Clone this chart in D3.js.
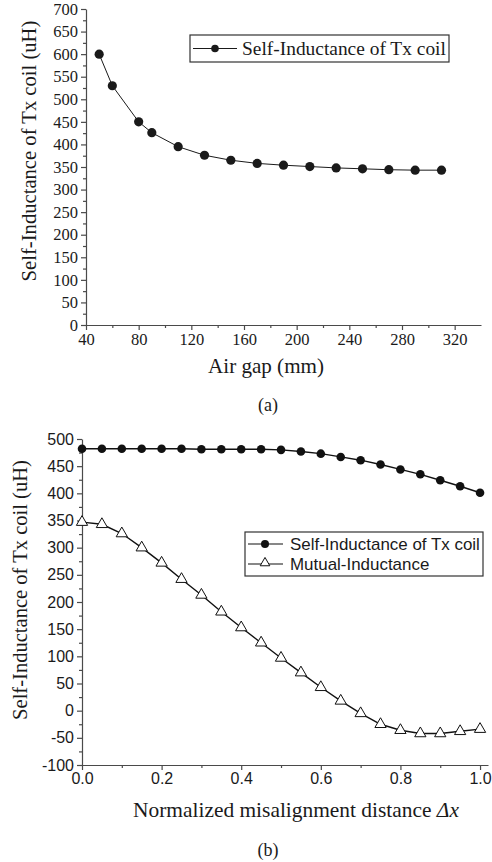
<!DOCTYPE html>
<html>
<head>
<meta charset="utf-8">
<script src="https://cdn.jsdelivr.net/npm/d3@7"></script>
<style>
  body { margin: 0; background: #fff; }
  svg { display: block; }
</style>
</head>
<body>
<svg id="chart" width="492" height="862"></svg>
<script>
// (a) self inductance vs air gap
var gapMm = [50, 60, 80, 90, 110, 130, 150, 170, 190, 210, 230, 250, 270, 290, 310];
var selfVsGap = [600, 530, 450, 426, 395, 376, 365, 358, 354, 351, 348, 346, 344, 343, 343];
var gapTicks = [40, 80, 120, 160, 200, 240, 280, 320];

// (b) inductances vs normalized misalignment
var misalign = [0, 0.05, 0.1, 0.15, 0.2, 0.25, 0.3, 0.35, 0.4, 0.45, 0.5, 0.55, 0.6, 0.65, 0.7, 0.75, 0.8, 0.85, 0.9, 0.95, 1.0];
var selfVsMis = [482, 482, 482, 482, 482, 482, 481, 481, 481, 481, 480, 477, 473, 467, 461, 453, 444, 435, 424, 413, 401];
var mutualVsMis = [347, 343, 326, 300, 272, 242, 213, 182, 153, 125, 97, 70, 43, 18, -5, -25, -36, -42, -42, -38, -34];
var misTicks = [0, 0.2, 0.4, 0.6, 0.8, 1.0];

var serif = '"Liberation Serif", "Times New Roman", serif';
var sans = '"Liberation Sans", Arial, sans-serif';
var axisColor = '#4a4a4a';
var ink = '#1a1a1a';

var svg = d3.select('#chart');

// scale a text's font size so it spans the wanted width
function fitText(sel, width) {
    var fs = parseFloat(sel.attr('font-size'));
    var w = sel.node().getComputedTextLength();
    if (w > 0) sel.attr('font-size', (fs * width / w).toFixed(2));
    return sel;
}

function styleAxis(g) {
    g.select('.domain').attr('stroke', axisColor).attr('stroke-width', 1.2);
    g.selectAll('.tick line').attr('stroke', axisColor).attr('stroke-width', 1.2);
    g.selectAll('.tick text').attr('fill', ink);
}

function minorAxis(g, axis) {
    g.call(axis);
    g.select('.domain').remove();
    g.selectAll('.tick text').remove();
    g.selectAll('.tick line').attr('stroke', axisColor).attr('stroke-width', 1.2);
}

// ---------- panel (a) ----------
var xa = d3.scaleLinear().domain([40, 340]).range([86, 481]);
var ya = d3.scaleLinear().domain([0, 700]).range([325, 9]);

svg.append('g').attr('transform', 'translate(0,' + ya(0) + ')')
    .call(minorAxis, d3.axisBottom(xa).tickValues(d3.range(60, 340, 40)).tickSize(3));
svg.append('g').attr('transform', 'translate(' + xa(40) + ',0)')
    .call(minorAxis, d3.axisLeft(ya).tickValues(d3.range(25, 700, 50)).tickSize(3));

var gxa = svg.append('g').attr('transform', 'translate(0,' + ya(0) + ')')
    .call(d3.axisBottom(xa).tickValues(gapTicks).tickSize(5).tickPadding(3).tickSizeOuter(0))
    .attr('font-family', serif).attr('font-size', 16.5);
styleAxis(gxa);
var gya = svg.append('g').attr('transform', 'translate(' + xa(40) + ',0)')
    .call(d3.axisLeft(ya).ticks(14).tickSize(5).tickPadding(3).tickSizeOuter(0))
    .attr('font-family', serif).attr('font-size', 16.5);
styleAxis(gya);

var lineA = d3.line().x(function (d, i) { return xa(gapMm[i]); }).y(function (d) { return ya(d); });
svg.append('path').datum(selfVsGap).attr('d', lineA)
    .attr('fill', 'none').attr('stroke', ink).attr('stroke-width', 1);
svg.append('g').selectAll('circle').data(selfVsGap).enter().append('circle')
    .attr('cx', function (d, i) { return xa(gapMm[i]); })
    .attr('cy', function (d) { return ya(d); })
    .attr('r', 4.6).attr('fill', ink);

// legend (a)
var legA = svg.append('g');
legA.append('rect').attr('x', 190).attr('y', 35).attr('width', 259).attr('height', 27)
    .attr('fill', '#fff').attr('stroke', '#333').attr('stroke-width', 1.2);
legA.append('line').attr('x1', 193).attr('x2', 237).attr('y1', 48.5).attr('y2', 48.5)
    .attr('stroke', ink);
legA.append('circle').attr('cx', 215).attr('cy', 48.5).attr('r', 3.8).attr('fill', ink);
legA.append('text').attr('x', 242).attr('y', 54.5).attr('font-family', serif).attr('font-size', 17.5)
    .attr('fill', ink).text('Self-Inductance of Tx coil').call(fitText, 204);

svg.append('text').attr('transform', 'translate(36,151) rotate(-90)')
    .attr('text-anchor', 'middle').attr('font-family', serif).attr('font-size', 18).attr('fill', ink)
    .text('Self-Inductance of Tx coil (uH)').call(fitText, 261);
svg.append('text').attr('x', 266).attr('y', 373).attr('text-anchor', 'middle')
    .attr('font-family', serif).attr('font-size', 18).attr('fill', ink).text('Air gap (mm)')
    .call(fitText, 116);
svg.append('text').attr('x', 268).attr('y', 411).attr('text-anchor', 'middle')
    .attr('font-family', serif).attr('font-size', 18).attr('fill', ink).text('(a)');

// ---------- panel (b) ----------
var xb = d3.scaleLinear().domain([0, 1.02]).range([82, 488]);
var yb = d3.scaleLinear().domain([-100, 500]).range([765, 439]);

svg.append('g').attr('transform', 'translate(0,' + yb(-100) + ')')
    .call(minorAxis, d3.axisBottom(xb).tickValues([0.1, 0.3, 0.5, 0.7, 0.9]).tickSize(3));
svg.append('g').attr('transform', 'translate(' + xb(0) + ',0)')
    .call(minorAxis, d3.axisLeft(yb).tickValues(d3.range(-75, 500, 50)).tickSize(3));

var gxb = svg.append('g').attr('transform', 'translate(0,' + yb(-100) + ')')
    .call(d3.axisBottom(xb).tickValues(misTicks).tickFormat(d3.format('.1f')).tickSize(5).tickPadding(3).tickSizeOuter(0))
    .attr('font-family', sans).attr('font-size', 16);
styleAxis(gxb);
var gyb = svg.append('g').attr('transform', 'translate(' + xb(0) + ',0)')
    .call(d3.axisLeft(yb).ticks(12).tickSize(5).tickPadding(3).tickSizeOuter(0))
    .attr('font-family', sans).attr('font-size', 16);
styleAxis(gyb);
gyb.selectAll('.tick text').text(function (d) { return d < 0 ? '-' + Math.abs(d) : d; });

var lineB = d3.line().x(function (d, i) { return xb(misalign[i]); }).y(function (d) { return yb(d); });
svg.append('path').datum(selfVsMis).attr('d', lineB)
    .attr('fill', 'none').attr('stroke', '#111').attr('stroke-width', 1.4);
svg.append('path').datum(mutualVsMis).attr('d', lineB)
    .attr('fill', 'none').attr('stroke', '#111').attr('stroke-width', 1.4);
svg.append('g').selectAll('circle').data(selfVsMis).enter().append('circle')
    .attr('cx', function (d, i) { return xb(misalign[i]); })
    .attr('cy', function (d) { return yb(d); })
    .attr('r', 4.3).attr('fill', '#111');
var tri = d3.symbol().type(d3.symbolTriangle).size(55);
svg.append('g').selectAll('path').data(mutualVsMis).enter().append('path')
    .attr('d', tri)
    .attr('transform', function (d, i) { return 'translate(' + xb(misalign[i]) + ',' + yb(d) + ')'; })
    .attr('fill', '#fff').attr('stroke', '#111').attr('stroke-width', 1);

// legend (b)
var legB = svg.append('g');
legB.append('rect').attr('x', 245).attr('y', 532).attr('width', 238).attr('height', 44)
    .attr('fill', '#fff').attr('stroke', '#333').attr('stroke-width', 1.2);
legB.append('line').attr('x1', 248).attr('x2', 283).attr('y1', 544).attr('y2', 544).attr('stroke', '#111').attr('stroke-width', 1.2);
legB.append('circle').attr('cx', 265).attr('cy', 544).attr('r', 4).attr('fill', '#111');
legB.append('line').attr('x1', 248).attr('x2', 283).attr('y1', 564).attr('y2', 564).attr('stroke', '#111').attr('stroke-width', 1.2);
legB.append('path').attr('d', d3.symbol().type(d3.symbolTriangle).size(40))
    .attr('transform', 'translate(265,563)').attr('fill', '#fff').attr('stroke', '#111');
var legB1 = legB.append('text').attr('x', 290).attr('y', 549.5).attr('font-family', sans).attr('font-size', 15.5)
    .attr('fill', ink).text('Self-Inductance of Tx coil').call(fitText, 190);
legB.append('text').attr('x', 290).attr('y', 569.5).attr('font-family', sans)
    .attr('font-size', legB1.attr('font-size'))
    .attr('fill', ink).text('Mutual-Inductance');

svg.append('text').attr('transform', 'translate(27,590) rotate(-90)')
    .attr('text-anchor', 'middle').attr('font-family', serif).attr('font-size', 18).attr('fill', ink)
    .text('Self-Inductance of Tx coil (uH)').call(fitText, 260);
var xl = svg.append('text').attr('x', 296).attr('y', 817).attr('text-anchor', 'middle')
    .attr('font-family', serif).attr('font-size', 18).attr('fill', ink);
xl.append('tspan').text('Normalized misalignment distance ');
xl.append('tspan').attr('font-style', 'italic').text('\u0394x');
fitText(xl, 326);
svg.append('text').attr('x', 268).attr('y', 856).attr('text-anchor', 'middle')
    .attr('font-family', serif).attr('font-size', 18).attr('fill', ink).text('(b)');
</script>
</body>
</html>
